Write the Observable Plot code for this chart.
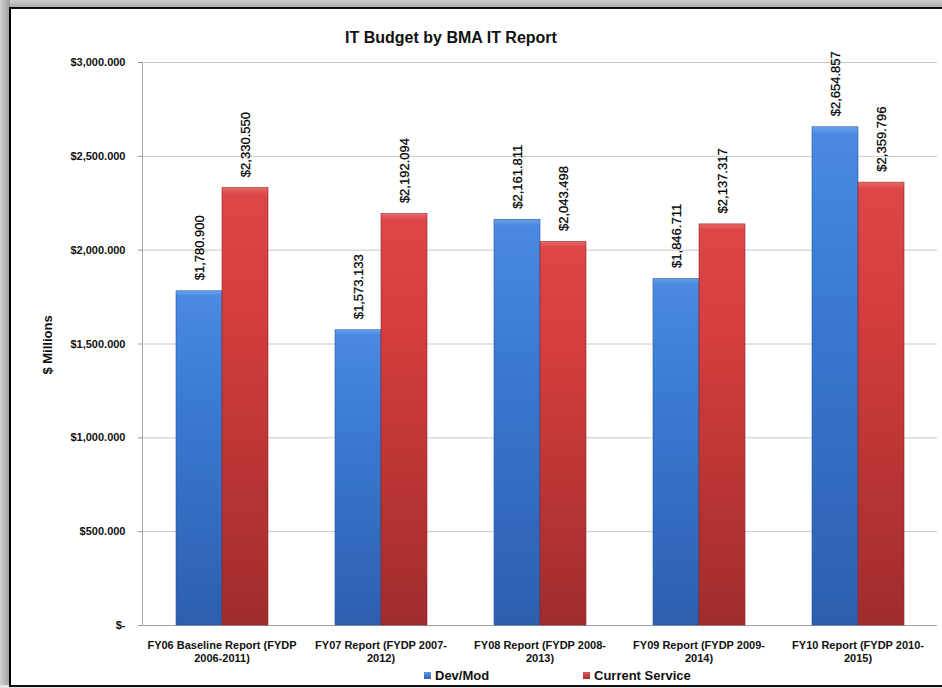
<!DOCTYPE html>
<html>
<head>
<meta charset="utf-8">
<script src="https://cdn.jsdelivr.net/npm/d3@7"></script>
<script src="https://cdn.jsdelivr.net/npm/@observablehq/plot@0.6"></script>
<style>
  html { overflow: hidden; background: #fff; }
  html, body { margin: 0; padding: 0; }
  body { width: 942px; height: 688px; overflow: hidden; position: relative; background: #fff;
         font-family: "Liberation Sans", Arial, sans-serif; }
  #bgTop { position: absolute; left: 0; top: 0; width: 942px; height: 8px; background: linear-gradient(to bottom, #d0d0d0, #a8a8a8); }
  #bgLeft { position: absolute; left: 0; top: 0; width: 10px; height: 688px; background: linear-gradient(to right, #d2d2d2, #9c9c9c); }
  #bgBottom { position: absolute; left: 0; top: 685px; width: 942px; height: 3px; background: #e6e6e6; }
  #sheet { position: absolute; left: 9px; top: 7px; width: 933px; height: 676px; background: #fff;
           border-left: 2px solid #000; border-top: 2px solid #111; border-bottom: 2px solid #111; box-sizing: content-box; }
  #title { position: absolute; left: 0; width: 902px; top: 29px; text-align: center; font-weight: bold; font-size: 16px; color: #111; }
  #ylabel { position: absolute; left: 47px; top: 345px; transform: translate(-50%, -50%) rotate(-90deg); font-weight: bold; font-size: 13px; color: #111; white-space: nowrap; }
  #chart { position: absolute; left: 11px; top: 45px; }
  .leg { position: absolute; top: 668px; font-weight: bold; font-size: 13px; color: #111; line-height: 16px; white-space: nowrap; }
  .sw { display: inline-block; width: 7px; height: 7px; margin-right: 4px; vertical-align: 1px; }
</style>
</head>
<body>
<div id="bgTop"></div>
<div id="bgLeft"></div>
<div id="bgBottom"></div>
<div id="sheet"></div>
<div id="title">IT Budget by BMA IT Report</div>
<div id="ylabel">$ Millions</div>
<div id="chart"></div>
<div class="leg" style="left:424px"><span class="sw" style="background:linear-gradient(#5b98e6,#2f62b5)"></span>Dev/Mod</div>
<div class="leg" style="left:583px"><span class="sw" style="background:linear-gradient(#e25555,#a82e2e)"></span>Current Service</div>
<script>
const categories = [
  "FY06 Baseline Report (FYDP 2006-2011)",
  "FY07 Report (FYDP 2007-2012)",
  "FY08 Report (FYDP 2008-2013)",
  "FY09 Report (FYDP 2009-2014)",
  "FY10 Report (FYDP 2010-2015)"
];
const categoryLabels = [
  "FY06 Baseline Report (FYDP\n2006-2011)",
  "FY07 Report (FYDP 2007-\n2012)",
  "FY08 Report (FYDP 2008-\n2013)",
  "FY09 Report (FYDP 2009-\n2014)",
  "FY10 Report (FYDP 2010-\n2015)"
];
const series = ["Dev/Mod", "Current Service"];
const devMod = [1780.900, 1573.133, 2161.811, 1846.711, 2654.857];
const currentService = [2330.550, 2192.094, 2043.498, 2137.317, 2359.796];
const yTicks = [0, 500, 1000, 1500, 2000, 2500, 3000];

const rows = [];
categories.forEach((c, i) => {
  rows.push({cat: c, series: series[0], value: devMod[i]});
  rows.push({cat: c, series: series[1], value: currentService[i]});
});

const money = d3.format(",.3f");
const yFmt = d => d === 0 ? "$-" : "$" + money(d);
const labelOf = new Map(categories.map((c, i) => [c, categoryLabels[i]]));

const svg = Plot.plot({
  width: 931,
  height: 617,
  marginLeft: 131,
  marginRight: 5,
  marginTop: 17,
  marginBottom: 37,
  style: {fontFamily: "'Liberation Sans', Arial, sans-serif", background: "transparent", overflow: "visible"},
  fx: {domain: categories, padding: 0},
  x: {domain: series, paddingInner: 0, paddingOuter: 0.728, axis: null},
  y: {domain: [0, 3000], axis: null},
  color: {domain: series, range: ["url(#gBlue)", "url(#gRed)"]},
  marks: [
    Plot.gridY(yTicks, {stroke: "#c8c8c8", strokeOpacity: 1}),
    Plot.ruleY([0], {stroke: "#a0a0a0"}),
    Plot.frame({anchor: "left", facetAnchor: "left", stroke: "#a8a8a8"}),
    Plot.barY(rows, {fx: "cat", x: "series", y: "value", fill: "series", stroke: d => d.series === series[0] ? "#2a559c" : "#8e2626", strokeWidth: 0.6}),
    Plot.text(rows, {fx: "cat", x: "series", y: "value", text: d => "$" + money(d.value), rotate: -90, textAnchor: "start", lineAnchor: "middle", dy: -11, fontSize: 13, fill: "#000", stroke: "#000", strokeWidth: 0.25}),
    Plot.axisY(yTicks, {tickSize: 4, tickPadding: 13, tickFormat: yFmt, fontSize: 11, fontWeight: "bold", fill: "#111", stroke: "#999", label: null}),
    Plot.axisFx({anchor: "bottom", tickSize: 0, tickPadding: 15, tickFormat: d => labelOf.get(d), fontSize: 11, fontWeight: "bold", lineHeight: 1.15, fill: "#111", label: null})
  ]
});

const defs = d3.select(svg).insert("defs", ":first-child");
function grad(id, stops) {
  const g = defs.append("linearGradient").attr("id", id).attr("x1", 0).attr("y1", 0).attr("x2", 0).attr("y2", 1);
  stops.forEach(([o, c]) => g.append("stop").attr("offset", o).attr("stop-color", c));
}
grad("gBlue", [[0, "#6aa3ea"], [0.015, "#4a8ae0"], [0.3, "#3b7cd5"], [1, "#2d5eae"]]);
grad("gRed", [[0, "#ea6a6a"], [0.015, "#dd4646"], [0.3, "#d33d3d"], [1, "#a02c2c"]]);

document.getElementById("chart").appendChild(svg);
</script>
</body>
</html>
